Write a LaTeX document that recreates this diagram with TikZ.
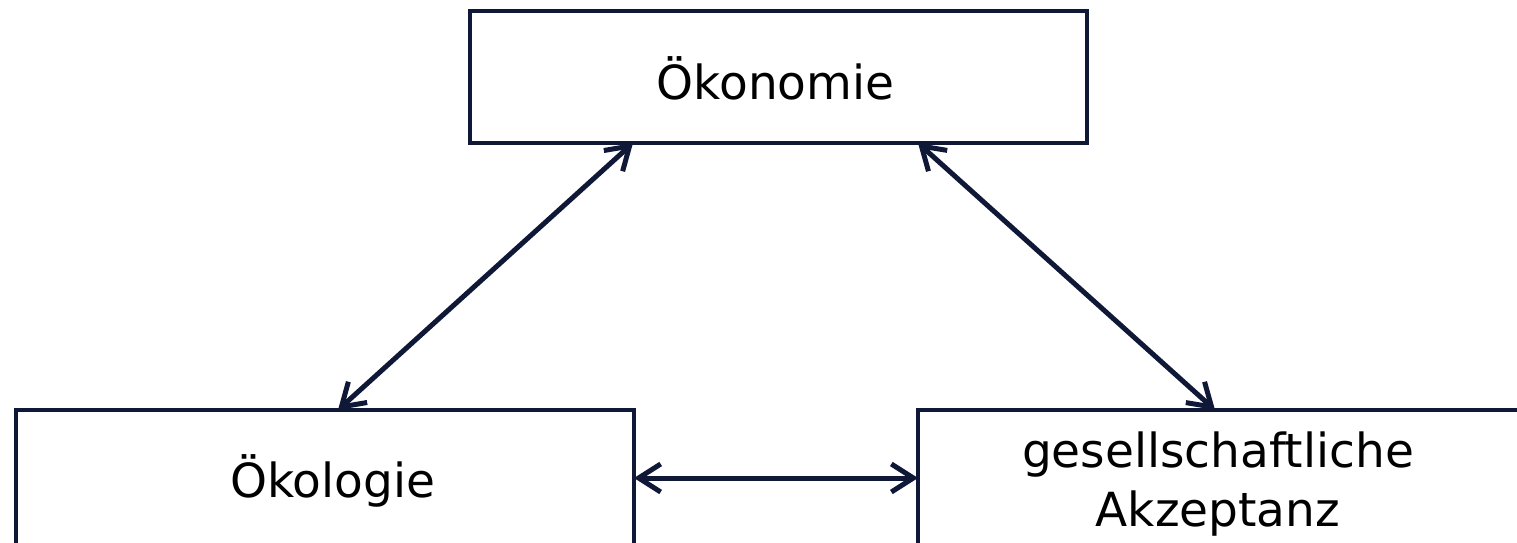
\documentclass[tikz,border=0pt]{standalone}
\usepackage{fontspec}
\setmainfont{DejaVu Sans}
\usetikzlibrary{arrows.meta}
\definecolor{navy}{RGB}{15,25,55}
\begin{document}
\begin{tikzpicture}[x=1pt,y=-1pt,
  box/.style={draw=navy, line width=4.5pt, rectangle, outer sep=0pt, inner sep=0pt},
  lbl/.style={font=\fontsize{47}{59}\selectfont, text=black, inner sep=0pt, align=center},
  conn/.style={draw=navy, line width=5pt, line cap=round, line join=round,
    {Straight Barb[length=22pt,width=28pt]}-{Straight Barb[length=22pt,width=28pt]}}]
\useasboundingbox (0,0) rectangle (1517,543);
\clip (0,0) rectangle (1517,543);
\fill[white] (0,0) rectangle (1517,543);
\node[box, minimum width=617pt, minimum height=132pt] (ok) at (778.5,77) {};
\node[box, minimum width=618pt, minimum height=136pt] (oe) at (325,478) {};
\node[box, minimum width=622pt, minimum height=136pt] (ge) at (1229,478) {};
\node[lbl, anchor=base] (tok) at (775.5,99) {Ökonomie};
\node[lbl, anchor=base] (toe) at (332.5,497) {Ökologie};
\node[lbl] (tge) at (1218,484.2) {gesellschaftliche\\Akzeptanz};
\draw[conn] ([xshift=163pt]ok.south west) -- ([xshift=322pt]oe.north west);
\draw[conn] ([xshift=448pt]ok.south west) -- ([xshift=297pt]ge.north west);
\draw[conn] (oe.east) -- (ge.west);
\end{tikzpicture}
\end{document}
